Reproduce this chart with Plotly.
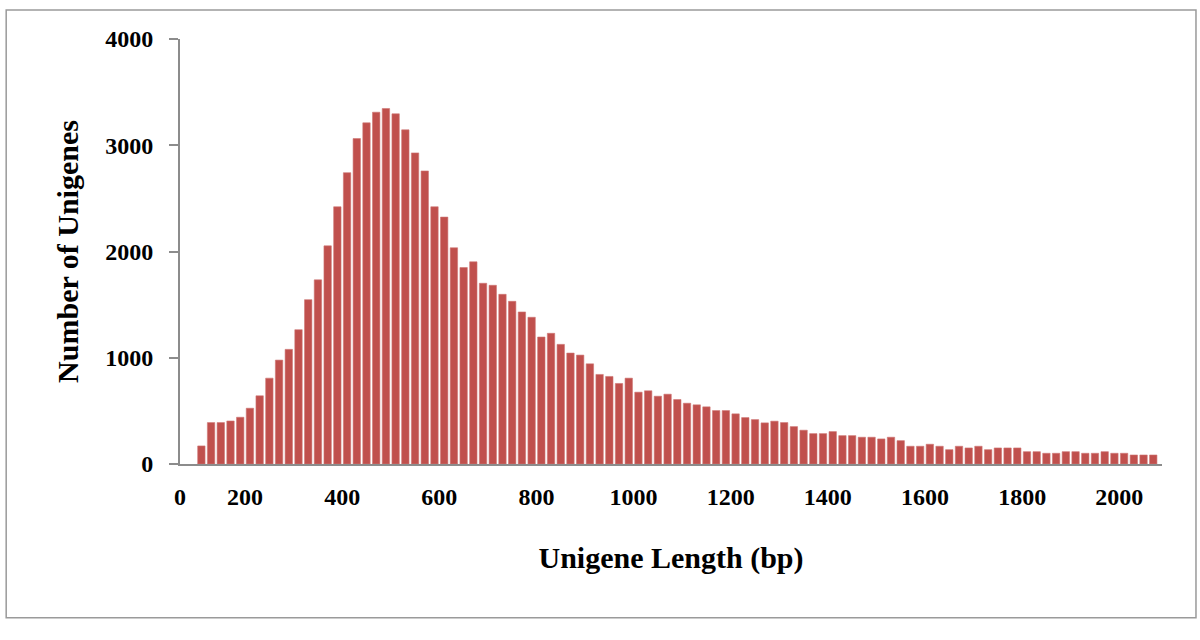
import plotly.graph_objects as go

# Bin centres (bp), 20 bp bins
lengths = list(range(110, 2071, 20))
counts = [170, 390, 390, 405, 440, 525, 642, 808, 978, 1079,
          1264, 1547, 1733, 2053, 2421, 2742, 3063, 3211, 3311, 3346,
          3296, 3145, 2928,
          2758, 2421, 2324, 2035, 1849, 1903, 1701, 1682, 1597, 1531,
          1431, 1381, 1195, 1230, 1126, 1044, 1025, 943, 843, 824,
          758, 808, 676,
          689, 638, 657, 607, 572, 557, 538, 503, 503, 472,
          437, 418, 387, 403, 390, 352, 318, 286, 286, 305,
          267, 267, 252, 252,
          236, 252, 220, 167, 167, 186, 167, 135, 167, 151,
          167, 135, 151, 151, 151, 116, 116, 101, 101, 116,
          116, 101, 101, 116, 101, 101, 85, 85, 85]
x_ticks = [200, 400, 600, 800, 1000, 1200, 1400, 1600, 1800, 2000]
y_ticks = [0, 1000, 2000, 3000, 4000]

FONT = "Liberation Serif"
BAR = "#C0504D"
AXIS = "#8c8c8c"

fig = go.Figure(go.Bar(
    x=lengths, y=counts,
    marker=dict(color=BAR, line=dict(color="#cf7673", width=0.6)),
    hoverinfo="x+y",
))

fig.update_layout(
    width=1200, height=640,
    paper_bgcolor="white", plot_bgcolor="white",
    margin=dict(l=180, r=38, t=39, b=176, autoexpand=False),
    bargap=0.24,
    showlegend=False,
    font=dict(family=FONT, color="black"),
)

fig.update_xaxes(
    range=[66, 2088],
    tickmode="array", tickvals=x_ticks, ticktext=[str(v) for v in x_ticks],
    ticks="", showgrid=False, zeroline=False,
    showline=True, linecolor=AXIS, linewidth=2,
    tickfont=dict(family=FONT, size=24, color="black", weight="bold"),
    ticklabelstandoff=10,
    title=dict(text="<b>Unigene Length (bp)</b>", font=dict(family=FONT, size=30, color="black"), standoff=38),
    automargin=False,
)
fig.update_yaxes(
    range=[0, 4000],
    tickmode="array", tickvals=y_ticks, ticktext=[str(v) for v in y_ticks],
    ticks="outside", ticklen=9, tickcolor=AXIS, tickwidth=2,
    showgrid=False, zeroline=False,
    showline=True, linecolor=AXIS, linewidth=2,
    tickfont=dict(family=FONT, size=24, color="black", weight="bold"),
    ticklabelstandoff=11,
    title=dict(text="<b>Number of Unigenes</b>", font=dict(family=FONT, size=30, color="black"), standoff=18),
    automargin=False,
)

# "0" label at the origin of the x axis
fig.add_annotation(text="<b>0</b>", xref="paper", yref="paper", x=0, y=-0.078,
                   showarrow=False, font=dict(family=FONT, size=24, color="black"),
                   xanchor="center", yanchor="middle")

# outer frame
fig.add_shape(type="rect", xref="paper", yref="paper",
              x0=-0.177, x1=1.0346, y0=-0.362, y1=1.068,
              line=dict(color="#9a9a9a", width=1.5))

fig.write_html("out.html", config={"displayModeBar": False},
               post_script="document.body.style.margin='0';")
